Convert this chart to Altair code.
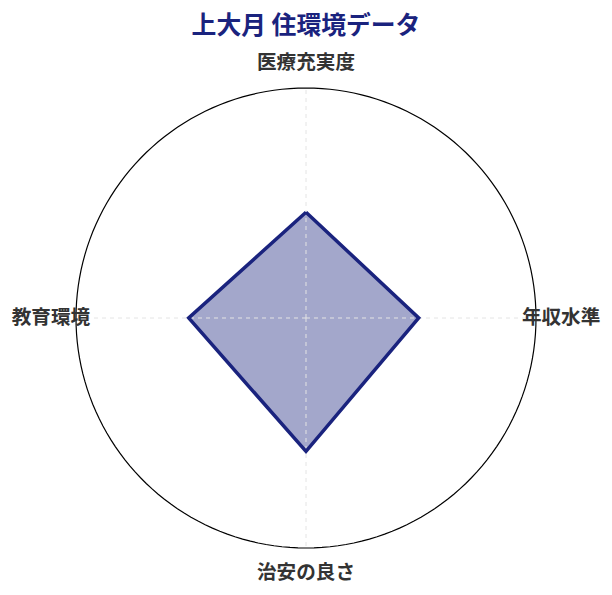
import altair as alt
import pandas as pd

# 住環境スコア (0-100), clockwise from the top
categories = ["医療充実度", "年収水準", "治安の良さ", "教育環境"]
scores = [46, 49, 58, 51]

navy = "#1a237e"
font = "Noto Sans CJK JP"

df = pd.DataFrame({"cat": categories, "score": scores, "idx": list(range(len(categories)))})
# close the polygon by repeating the first point
df_poly = pd.concat([df, df.iloc[[0]].assign(idx=len(categories))], ignore_index=True)

ang = "PI / 2 - datum.idx * 2 * PI / 4"
xs = alt.Scale(domain=[-129.565, 129.565], nice=False, zero=False)
ys = alt.Scale(domain=[-117.391, 117.391], nice=False, zero=False)
X = lambda f: alt.X(f, type="quantitative", scale=xs, axis=None)
Y = lambda f: alt.Y(f, type="quantitative", scale=ys, axis=None)

base = alt.Chart(df_poly).transform_calculate(
    px=f"datum.score * cos({ang})", py=f"datum.score * sin({ang})"
)

fill = base.mark_line(interpolate="linear", fill=navy, fillOpacity=0.4, strokeWidth=0).encode(
    x=X("px"), y=Y("py"), order="idx:Q"
)
stroke = base.mark_line(color=navy, strokeWidth=3.5, strokeJoin="miter").encode(
    x=X("px"), y=Y("py"), order="idx:Q"
)

spokes = alt.Chart(df).transform_calculate(
    zero="0", ex=f"100 * cos({ang})", ey=f"100 * sin({ang})"
).mark_rule(color="#e4e4e4", strokeDash=[4, 4], strokeWidth=1).encode(
    x=X("zero"), y=Y("zero"), x2="ex:Q", y2="ey:Q"
)

ring = alt.Chart(alt.sequence(0, 362, 2, as_="deg")).transform_calculate(
    cx="100 * cos(datum.deg * PI / 180)", cy="100 * sin(datum.deg * PI / 180)"
).mark_line(color="black", strokeWidth=1.2).encode(
    x=X("cx"), y=Y("cy"), order="deg:Q"
)

labels = alt.Chart(df).transform_calculate(
    lx=f"110.9 * cos({ang})", ly=f"110.9 * sin({ang})"
).mark_text(font=font, fontSize=19.6, fontWeight="bold", color="#333333",
            align="center", baseline="middle").encode(
    x=X("lx"), y=Y("ly"), text="cat:N"
)

chart = alt.layer(ring, fill, spokes, stroke, labels).properties(
    width=596,
    height=540,
    autosize=alt.AutoSizeParams(type="none"),
    padding={"left": 0, "right": 0, "top": 40, "bottom": 0},
    title=alt.TitleParams("上大月 住環境データ", font=font, fontSize=24.8, fontWeight="bold",
                          color=navy, anchor="middle", offset=9),
).configure_view(stroke=None)

chart.save("out.html", embed_options={"renderer": "svg", "actions": False})
